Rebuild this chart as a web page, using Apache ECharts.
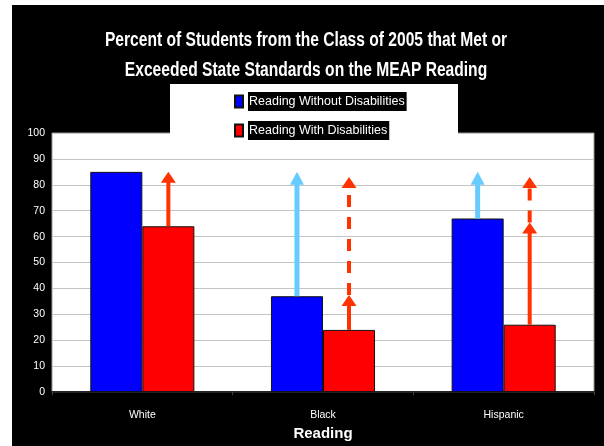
<!DOCTYPE html>
<html>
<head>
<meta charset="utf-8">
<style>
  html, body { margin: 0; padding: 0; background: #fff; }
  #chart { width: 604px; height: 446px; }
</style>
<script src="https://cdn.jsdelivr.net/npm/echarts@6/dist/echarts.min.js"></script>
</head>
<body>
<div id="chart"></div>
<script>
// chart data
var categories = ['White', 'Black', 'Hispanic']
var withoutDis = [85, 37, 67]
var withDis = [64, 24, 26]
var titleLines = [
  'Percent of Students from the Class of 2005 that Met or',
  'Exceeded State Standards on the MEAP Reading'
]

// target arrows: category, series (0 = without, 1 = with), from, to, dashed
var arrowCats = ['White', 'Black', 'Black', 'Black', 'Hispanic', 'Hispanic', 'Hispanic']
var arrowSeries = [1, 0, 1, 1, 0, 1, 1]
var arrowFrom = [64, 37, 24, 37.5, 67, 26, 65.5]
var arrowTo = [85, 85, 37.5, 83, 85, 65.5, 83]
var arrowDashed = [0, 0, 0, 1, 0, 0, 1]

var font = "'Liberation Sans', Arial, sans-serif"

var arrowData = arrowCats.map(function (c, i) {
  return [categories.indexOf(c), arrowFrom[i], arrowTo[i], arrowSeries[i], arrowDashed[i]]
})

var myChart = echarts.init(document.getElementById('chart'))

// narrow bold title, squeezed horizontally like the original
var titleGraphics = titleLines.map(function (t, i) {
  return {
    type: 'text',
    x: 306,
    y: 40 + i * 30,
    scaleX: 0.78,
    z: 60,
    style: {
      text: t,
      fill: '#fff',
      font: 'bold 20px ' + font,
      textAlign: 'center',
      textVerticalAlign: 'middle'
    }
  }
})

var option = {
  backgroundColor: '#fff',
  animation: false,
  graphic: [
    { type: 'rect', z: -100, shape: { x: 12, y: 5, width: 592, height: 441 }, style: { fill: '#000' } },
    { type: 'rect', z: 50, shape: { x: 170, y: 84, width: 288, height: 60 }, style: { fill: '#fff' } }
  ].concat(titleGraphics),
  legend: {
    orient: 'vertical',
    left: 229,
    top: 87,
    z: 60,
    itemGap: 10,
    itemWidth: 8,
    itemHeight: 12,
    icon: 'rect',
    textStyle: {
      color: '#fff',
      backgroundColor: '#000',
      fontFamily: font,
      fontSize: 12.5,
      padding: [3, 2, 3, 1]
    },
    data: ['Reading Without Disabilities', 'Reading With Disabilities']
  },
  grid: {
    left: 52,
    right: 10,
    top: 133,
    bottom: 47,
    show: true,
    backgroundColor: '#fff',
    borderColor: '#999',
    borderWidth: 1
  },
  xAxis: {
    type: 'category',
    data: categories,
    name: 'Reading',
    nameLocation: 'middle',
    nameGap: 24,
    nameTextStyle: { color: '#fff', fontFamily: font, fontWeight: 'bold', fontSize: 15 },
    axisLine: { lineStyle: { color: '#222', width: 2 } },
    axisTick: { show: true, length: 3, lineStyle: { color: '#444' } },
    axisLabel: { color: '#fff', fontFamily: font, fontSize: 10.5, margin: 18 }
  },
  yAxis: {
    type: 'value',
    min: 0,
    max: 100,
    interval: 10,
    axisLine: { show: false },
    axisTick: { show: false },
    axisLabel: { color: '#fff', fontFamily: font, fontSize: 10.5, margin: 7 },
    splitLine: { lineStyle: { color: '#c4c4c4', width: 1 } }
  },
  series: [
    {
      name: 'Reading Without Disabilities',
      type: 'bar',
      barWidth: '28.8%',
      barGap: 0,
      data: withoutDis,
      itemStyle: { color: '#0000ff', borderColor: '#111', borderWidth: 1 }
    },
    {
      name: 'Reading With Disabilities',
      type: 'bar',
      barWidth: '28.8%',
      data: withDis,
      itemStyle: { color: '#ff0000', borderColor: '#111', borderWidth: 1 }
    },
    {
      type: 'custom',
      z: 5,
      data: arrowData,
      renderItem: function (params, api) {
        var band = api.size([1, 0])[0]
        var side = api.value(3)
        var off = (side ? 1 : -1) * band * 0.144
        var p0 = api.coord([api.value(0), api.value(1)])
        var p1 = api.coord([api.value(0), api.value(2)])
        var x = p0[0] + off
        var color = side ? '#ff3300' : '#66ccff'
        var headH = side ? 11 : 13
        var hw = side ? 7.5 : 7
        var dashed = api.value(4)
        return {
          type: 'group',
          children: [
            {
              type: 'line',
              shape: { x1: x, y1: p0[1], x2: x, y2: p1[1] + headH - 1 },
              style: {
                stroke: color,
                lineWidth: side ? 4 : 5,
                lineDash: dashed ? [12, 10] : null
              }
            },
            {
              type: 'polygon',
              shape: { points: [[x - hw, p1[1] + headH], [x + hw, p1[1] + headH], [x, p1[1]]] },
              style: { fill: color }
            }
          ]
        }
      }
    }
  ]
}

myChart.setOption(option)
</script>
</body>
</html>
